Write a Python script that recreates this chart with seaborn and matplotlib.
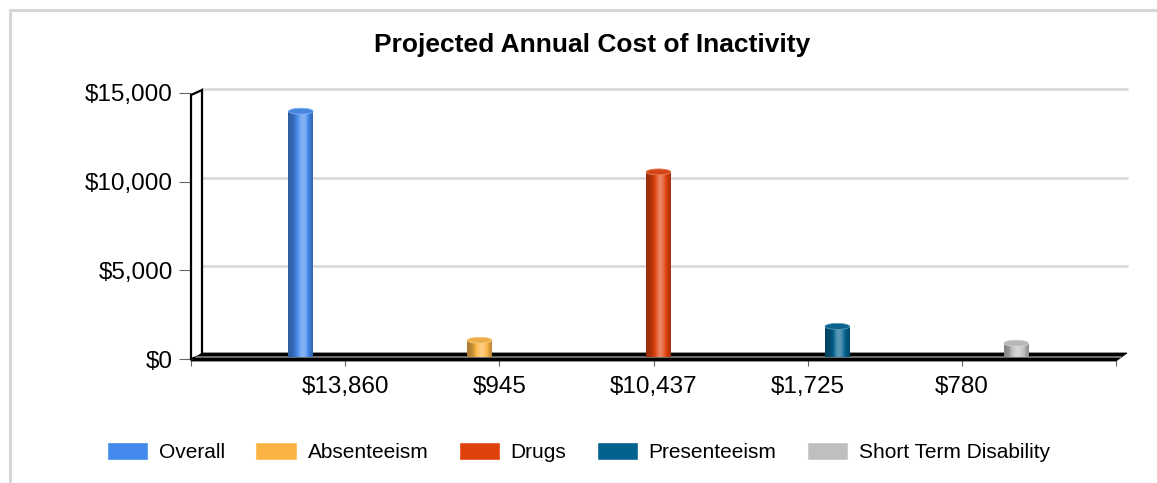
import matplotlib
matplotlib.use("Agg")
import numpy as np
import pandas as pd
import seaborn as sns
import matplotlib.pyplot as plt
import matplotlib.colors as mcolors
from matplotlib import transforms
from matplotlib.patches import Polygon, Rectangle, Ellipse
from matplotlib.lines import Line2D
from matplotlib.ticker import FuncFormatter

# ---- data -------------------------------------------------------------
series = ["Overall", "Absenteeism", "Drugs", "Presenteeism", "Short Term Disability"]
costs = [13860, 945, 10437, 1725, 780]
cost_labels = [f"${v:,}" for v in costs]
colors = ["#4489EC", "#FBB444", "#E0420E", "#03628F", "#BFBFBF"]
y_ticks = [0, 5000, 10000, 15000]

# ---- figure geometry (pixels) ----------------------------------------
W, H = 1157, 483
L, R, B, T = 191, 1116, 359, 93      # front plane of the plot box
DX, DY = 11, 4                       # depth of the pseudo-3D box

sns.set_theme(style="white")
plt.rcParams["font.family"] = ["Liberation Sans", "DejaVu Sans"]
plt.rcParams["text.color"] = "black"
plt.rcParams["axes.labelcolor"] = "black"
plt.rcParams["xtick.color"] = "#666666"
plt.rcParams["ytick.color"] = "#666666"

fig = plt.figure(figsize=(W / 100, H / 100), dpi=100)
fig.patch.set_facecolor("white")
ax = fig.add_axes([L / W, 1 - B / H, (R - L) / W, (B - T) / H])
ax.patch.set_alpha(0)


def px(x, y):
    """Pixel position (from top-left) to figure fraction."""
    return (x / W, 1 - y / H)


df = pd.DataFrame({"label": cost_labels, "series": series, "cost": costs})
sns.barplot(data=df, x="label", y="cost", hue="series",
            order=cost_labels, hue_order=series, palette=colors,
            saturation=1, width=0.8, dodge=True, errorbar=None,
            legend=True, ax=ax, zorder=3)
bars = [p for p in ax.patches if isinstance(p, Rectangle) and p.get_height() > 0]

handles, labels = ax.get_legend_handles_labels()
ax.get_legend().remove()

ax.set_xlim(-1, 5)
ax.set_ylim(0, 15000)
ax.set_xticks(range(-1, 6))
ax.set_xticklabels([""] + cost_labels + [""])
ax.set_yticks(y_ticks)
ax.yaxis.set_major_formatter(FuncFormatter(lambda v, _: f"${v:,.0f}"))
ax.set_xlabel("")
ax.set_ylabel("")
ax.grid(False)
for s in ax.spines.values():
    s.set_visible(False)
ax.tick_params(axis="y", left=True, length=9, width=0.8, color="#666666",
               pad=4, labelsize=17.5, labelcolor="black")
ax.tick_params(axis="x", bottom=True, length=5, width=0.8, color="#666666",
               pad=7, labelsize=17.5, labelcolor="black")

# gridlines on the back wall
back = transforms.ScaledTranslation(DX / 100, DY / 100, fig.dpi_scale_trans)
for v in y_ticks[1:]:
    ax.plot([0, 1], [v, v], transform=ax.get_yaxis_transform() + back,
            color="#DADADA", lw=2.0, zorder=0.5, clip_on=False)

# left wall and floor of the box
ax.add_patch(Polygon([px(L, B), px(L, T + 2), px(L + DX, T - 3), px(L + DX, B - DY)],
                     closed=True, transform=fig.transFigure, facecolor="white",
                     edgecolor="black", lw=1.6, zorder=2, clip_on=False))
ax.add_patch(Polygon([px(L, B + 2), px(R, B + 2), px(R + DX, B - 6), px(L + DX, B - 6)],
                     closed=True, transform=fig.transFigure, facecolor="black",
                     edgecolor="black", lw=0.6, zorder=2.5, clip_on=False))
fy = px(0, B - 2)[1]
ax.add_line(Line2D([px(L + 5, 0)[0], px(R + 5, 0)[0]], [fy, fy],
                   transform=fig.transFigure, color="#8C8C8C", lw=1.1,
                   zorder=2.6, clip_on=False))


# cylinder shading for the bars
def shade(c, t):
    p = 2 * np.exp(-((t - 0.58) / 0.28) ** 2) - 1
    if p < 0:
        return np.clip(c * (1 + 0.32 * p), 0, 1)
    return np.clip(c + (1 - c) * 0.34 * p, 0, 1)


mid = transforms.ScaledTranslation(5 / 100, 2 / 100, fig.dpi_scale_trans)
bar_trans = ax.transData + mid
cap_h = 6 * 15000 / (B - T)
n_strips = 26
for bar in bars:
    x0, w, h = bar.get_x(), bar.get_width(), bar.get_height()
    c = np.array(mcolors.to_rgb(bar.get_facecolor()))
    bar.set_transform(bar_trans)
    bar.set_edgecolor("none")
    for k in range(n_strips):
        t = (k + 0.5) / n_strips
        ax.add_patch(Rectangle((x0 + k * w / n_strips, 0), w / n_strips * 1.05, h,
                               transform=bar_trans, facecolor=shade(c, t),
                               lw=0, zorder=3.2))
    cap = np.clip(c * 0.9 + 0.04, 0, 1)
    ax.add_patch(Ellipse((x0 + w / 2, h), w, cap_h, transform=bar_trans,
                         facecolor=cap, edgecolor=shade(c, 0.6), lw=0.6,
                         zorder=3.4))

# title, legend, frame
fig.text(592 / W, 1 - 52 / H, "Projected Annual Cost of Inactivity",
         ha="center", va="baseline", fontsize=19, fontweight="bold",
         color="black")
fig.legend(handles, labels, loc="center", bbox_to_anchor=(0.5, 1 - 452 / H),
           ncol=5, frameon=False, fontsize=15, handlelength=1.97,
           handleheight=0.95, handletextpad=0.53, columnspacing=1.45,
           labelcolor="black")
fig.add_artist(Line2D([10 / W, 1], [1 - 10 / H, 1 - 10 / H],
                      transform=fig.transFigure, color="#D6D6D6", lw=2.2))
fig.add_artist(Line2D([10 / W, 10 / W], [1 - 10 / H, 0],
                      transform=fig.transFigure, color="#D6D6D6", lw=2.2))

fig.savefig("out.png", dpi=100)
